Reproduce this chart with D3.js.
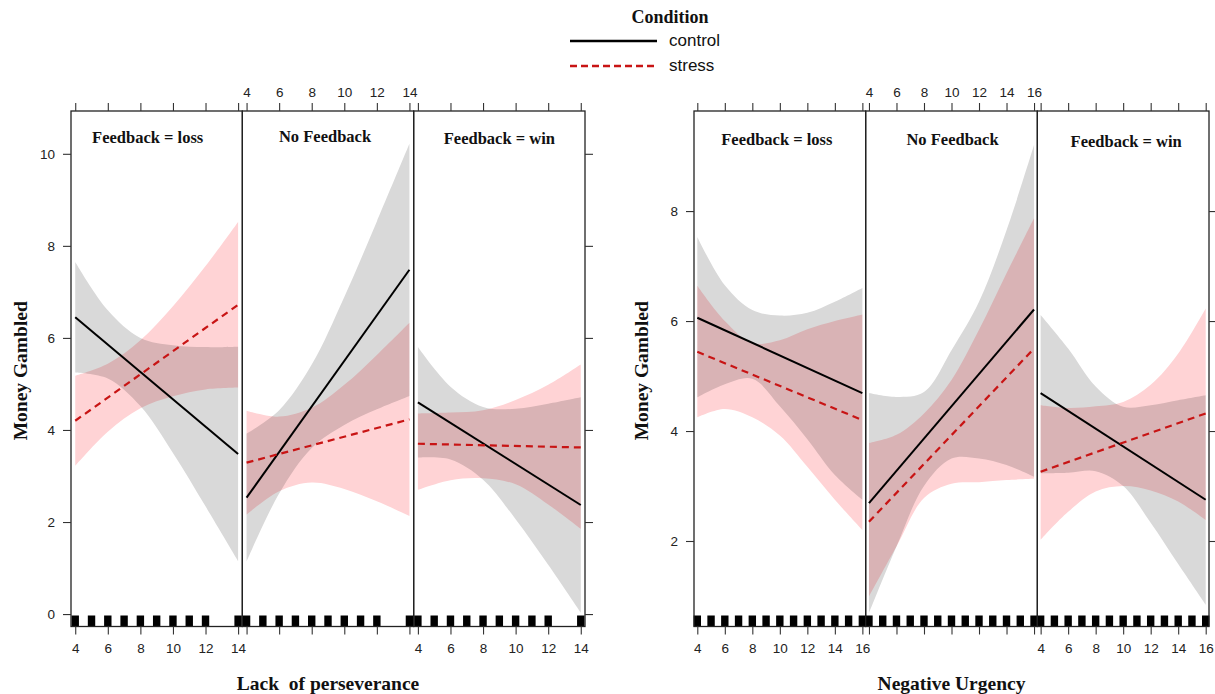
<!DOCTYPE html>
<html><head><meta charset="utf-8">
<script src="https://cdn.jsdelivr.net/npm/d3@7"></script>
<style>body{margin:0;background:#fff}</style>
</head><body>
<script>
// ---------- data ----------
const conditions = ["control", "stress"];
const panelNames = ["Feedback = loss", "No Feedback", "Feedback = win"];
const yTitle = "Money Gambled";

// Figure A: Lack of perseverance
const lackTitle = "Lack  of perseverance";
const lackTicks = [4, 6, 8, 10, 12, 14];
const lackYTicks = [0, 2, 4, 6, 8, 10];
const lackRug = [4, 5, 6, 7, 8, 9, 10, 11, 12, 14];
const lackControlLine = [[6.45, 3.48], [2.53, 7.48], [4.60, 2.37]];
const lackStressLine = [[4.20, 6.72], [3.29, 4.23], [3.70, 3.62]];
const lackControlUpper = [
  [7.65, 6.60, 6.00, 5.84, 5.80, 5.81],
  [3.92, 4.43, 5.42, 6.89, 8.53, 10.22],
  [5.80, 4.94, 4.50, 4.46, 4.57, 4.71]];
const lackControlLower = [
  [5.25, 5.12, 4.52, 3.50, 2.34, 1.15],
  [1.14, 2.62, 3.61, 4.11, 4.45, 4.74],
  [3.40, 3.36, 2.92, 2.06, 1.07, 0.03]];
const lackStressUpper = [
  [5.18, 5.44, 5.95, 6.69, 7.56, 8.52],
  [4.42, 4.29, 4.48, 4.98, 5.63, 6.33],
  [4.36, 4.38, 4.43, 4.65, 4.98, 5.42]];
const lackStressLower = [
  [3.22, 3.96, 4.47, 4.73, 4.88, 4.92],
  [2.16, 2.67, 2.86, 2.72, 2.45, 2.13],
  [2.70, 2.91, 2.95, 2.82, 2.38, 1.85]];

// Figure B: Negative Urgency
const urgTitle = "Negative Urgency";
const urgTicks = [4, 6, 8, 10, 12, 14, 16];
const urgYTicks = [2, 4, 6, 8];
const urgRug = [4, 5, 6, 7, 8, 9, 10, 11, 12, 13, 14, 15, 16];
const urgControlLine = [[6.06, 4.69], [2.69, 6.21], [4.69, 2.75]];
const urgStressLine = [[5.44, 4.20], [2.35, 5.50], [3.26, 4.32]];
const urgControlUpper = [
  [7.53, 6.65, 6.20, 6.10, 6.15, 6.35, 6.60],
  [4.69, 4.62, 4.71, 5.47, 6.35, 7.65, 9.20],
  [6.11, 5.50, 4.81, 4.44, 4.47, 4.56, 4.65]];
const urgControlLower = [
  [4.61, 4.85, 4.95, 4.45, 3.85, 3.20, 2.75],
  [0.69, 1.90, 3.00, 3.50, 3.50, 3.38, 3.17],
  [3.23, 3.24, 3.27, 3.00, 2.33, 1.58, 0.84]];
const urgStressUpper = [
  [6.64, 6.00, 5.60, 5.65, 5.85, 6.00, 6.12],
  [3.78, 3.93, 4.32, 4.93, 5.84, 6.87, 7.87],
  [4.47, 4.42, 4.45, 4.53, 4.84, 5.41, 6.23]];
const urgStressLower = [
  [4.25, 4.40, 4.25, 3.92, 3.35, 2.75, 2.20],
  [0.99, 1.90, 2.78, 3.04, 3.07, 3.11, 3.13],
  [2.02, 2.53, 2.90, 3.00, 2.92, 2.72, 2.38]];

// ---------- drawing ----------
const W = 1215, H = 694;
const svg = d3.select("body").append("svg").attr("width", W).attr("height", H)
  .style("background", "#fff");
const SERIF = "'Liberation Serif','Times New Roman',serif";
const SANS = "'Liberation Sans',Arial,sans-serif";
const GREY = "#d9d9d9", PINK = "#ffd3d5", RED = "#c81414";

function styleAxis(g, hide) {
  g.select(".domain").remove();
  g.selectAll("line").attr("stroke", "#333").attr("stroke-width", 1.1);
  g.selectAll("text").attr("font-family", SANS).attr("font-size", 13.5).attr("fill", "#222");
}

function drawFigure(f) {
  const g = svg.append("g");
  const pw = (f.x1 - f.x0) / 3;
  const y = d3.scaleLinear().domain(f.yDomain).range([f.bottom, f.top]);
  const bx = f.ticks;
  for (let p = 0; p < 3; p++) {
    const px0 = f.x0 + p * pw;
    const x = d3.scaleLinear().domain(f.xDomain).range([px0, px0 + pw]);
    const clipId = f.id + "clip" + p;
    svg.append("clipPath").attr("id", clipId).append("rect")
      .attr("x", px0).attr("y", f.top).attr("width", pw).attr("height", f.bottom - f.top);
    const pg = g.append("g").attr("clip-path", `url(#${clipId})`);
    const area = d3.area().x((d, i) => x(bx[i])).y0(d => y(d[0])).y1(d => y(d[1]))
      .curve(d3.curveCatmullRom.alpha(0.5));
    const ctrl = f.cLo[p].map((v, i) => [v, f.cUp[p][i]]);
    const str = f.sLo[p].map((v, i) => [v, f.sUp[p][i]]);
    pg.append("path").attr("d", area(ctrl)).attr("fill", GREY);
    pg.append("path").attr("d", area(str)).attr("fill", PINK).style("mix-blend-mode", "multiply");
    const line = d3.line().x(d => x(d[0])).y(d => y(d[1]));
    const xe = [bx[0], bx[bx.length - 1]];
    pg.append("path").attr("d", line(xe.map((xv, i) => [xv, f.cLine[p][i]])))
      .attr("fill", "none").attr("stroke", "#000").attr("stroke-width", 2);
    pg.append("path").attr("d", line(xe.map((xv, i) => [xv, f.sLine[p][i]])))
      .attr("fill", "none").attr("stroke", RED).attr("stroke-width", 2.2)
      .attr("stroke-dasharray", "7,5");
    // rug
    g.append("g").selectAll("rect").data(f.rug).enter().append("rect")
      .attr("x", d => x(d) - 3.7).attr("y", f.bottom - 11).attr("width", 7.4).attr("height", 11)
      .attr("fill", "#000");
    // border
    g.append("rect").attr("x", px0).attr("y", f.top).attr("width", pw).attr("height", f.bottom - f.top)
      .attr("fill", "none").attr("stroke", "#222").attr("stroke-width", 1.3);
    // top axis
    const ta = g.append("g").attr("transform", `translate(0,${f.top})`)
      .call(d3.axisTop(x).tickValues(f.ticks).tickSize(8).tickSizeOuter(0).tickPadding(6)
        .tickFormat(p === 1 ? d3.format("d") : () => ""));
    styleAxis(ta);
    const ba = g.append("g").attr("transform", `translate(0,${f.bottom})`)
      .call(d3.axisBottom(x).tickValues(f.ticks).tickSize(8).tickSizeOuter(0).tickPadding(9)
        .tickFormat(p !== 1 ? d3.format("d") : () => ""));
    styleAxis(ba);
    // strip label
    g.append("text").attr("x", px0 + pw / 2 + f.labelDX[p]).attr("y", f.labelY[p])
      .attr("text-anchor", "middle").attr("dominant-baseline", "central")
      .attr("font-family", SERIF).attr("font-weight", "bold").attr("font-size", 16.5)
      .attr("fill", "#111").text(panelNames[p]);
  }
  const la = g.append("g").attr("transform", `translate(${f.x0},0)`)
    .call(d3.axisLeft(y).tickValues(f.yTicks).tickSize(8).tickSizeOuter(0).tickPadding(8)
      .tickFormat(d3.format("d")));
  styleAxis(la);
  const ra = g.append("g").attr("transform", `translate(${f.x1},0)`)
    .call(d3.axisRight(y).tickValues(f.yTicks).tickSize(8).tickSizeOuter(0).tickFormat(() => ""));
  styleAxis(ra);
  g.append("text").attr("transform", `translate(${f.yTitleX},${(f.top + f.bottom) / 2 + 2}) rotate(-90)`)
    .attr("text-anchor", "middle").attr("dominant-baseline", "central")
    .attr("font-family", SERIF).attr("font-weight", "bold").attr("font-size", 19.5)
    .attr("fill", "#111").text(yTitle);
  g.append("text").attr("x", (f.x0 + f.x1) / 2).attr("y", 683)
    .attr("text-anchor", "middle").attr("dominant-baseline", "central")
    .attr("font-family", SERIF).attr("font-weight", "bold").attr("font-size", 19.5)
    .attr("fill", "#111").style("white-space", "pre").text(f.title);
}

drawFigure({
  id: "lack", x0: 71, x1: 585, top: 111, bottom: 626.5,
  xDomain: [3.74, 14.26], yDomain: [-0.27, 10.93],
  ticks: lackTicks, yTicks: lackYTicks, rug: lackRug,
  cLine: lackControlLine, sLine: lackStressLine,
  cUp: lackControlUpper, cLo: lackControlLower, sUp: lackStressUpper, sLo: lackStressLower,
  labelDX: [-9, -3, 0], labelY: [137, 136, 138], yTitleX: 20, title: lackTitle
});
drawFigure({
  id: "urg", x0: 694, x1: 1209, top: 111, bottom: 626.5,
  xDomain: [3.76, 16.24], yDomain: [0.445, 9.82],
  ticks: urgTicks, yTicks: urgYTicks, rug: urgRug,
  cLine: urgControlLine, sLine: urgStressLine,
  cUp: urgControlUpper, cLo: urgControlLower, sUp: urgStressUpper, sLo: urgStressLower,
  labelDX: [-3, 1, 3], labelY: [139, 139, 141], yTitleX: 641, title: urgTitle
});

// legend
const lg = svg.append("g");
lg.append("text").attr("x", 670).attr("y", 17).attr("text-anchor", "middle")
  .attr("dominant-baseline", "central").attr("font-family", SERIF).attr("font-weight", "bold")
  .attr("font-size", 18).attr("fill", "#111").text("Condition");
const legY = [41, 66];
conditions.forEach((c, i) => {
  lg.append("line").attr("x1", 570).attr("x2", 657).attr("y1", legY[i]).attr("y2", legY[i])
    .attr("stroke", i === 0 ? "#000" : RED).attr("stroke-width", i === 0 ? 2.4 : 2.4)
    .attr("stroke-dasharray", i === 0 ? null : "7,4");
  lg.append("text").attr("x", 669).attr("y", legY[i] - 1).attr("dominant-baseline", "central")
    .attr("font-family", SANS).attr("font-size", 17).attr("fill", "#111").text(c);
});
</script>
</body></html>
